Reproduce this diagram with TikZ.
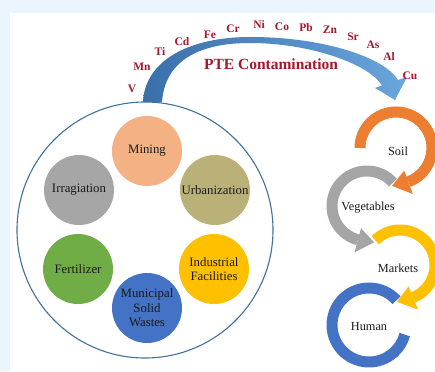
\documentclass[tikz,border=0pt]{standalone}
\usepackage{fontspec}
\setmainfont{Liberation Serif}
\usetikzlibrary{calc}

\definecolor{bgblue}{HTML}{EAF5FD}
\definecolor{poolline}{HTML}{41719C}
\definecolor{txt}{HTML}{1A1A1A}
\definecolor{pte}{HTML}{A8162A}
\definecolor{arrowdark}{HTML}{3A70AA}
\definecolor{arrowlight}{HTML}{6AA5DC}
\definecolor{cmining}{HTML}{F4B183}
\definecolor{curban}{HTML}{B9B177}
\definecolor{cirrig}{HTML}{A6A6A6}
\definecolor{cfert}{HTML}{70AD47}
\definecolor{cindus}{HTML}{FFC000}
\definecolor{cmuni}{HTML}{4472C4}
\definecolor{corange}{HTML}{ED7D31}
\definecolor{cgray}{HTML}{A5A5A5}
\definecolor{cyellow}{HTML}{FFC000}
\definecolor{cblue}{HTML}{4472C4}

\tikzset{
  source/.style={circle, minimum size=70pt, inner sep=0pt, align=center,
    font=\fontsize{12.8}{14.5}\selectfont, text=txt},
  element/.style={inner sep=0pt, text=pte, font=\fontsize{11.5}{12}\selectfont\bfseries},
  stage/.style={inner sep=0pt, text=txt, font=\fontsize{12.3}{14}\selectfont},
  band/.style={line width=11pt},
}

\begin{document}
\begin{tikzpicture}[x=1pt,y=-1pt]
  % page and light frame
  \useasboundingbox (0,0) rectangle (435,371);
  \fill[white] (0,0) rectangle (435,371);
  \fill[bgblue] (0,0) rectangle (435,13);
  \fill[bgblue] (0,0) rectangle (10,371);

  % pool of sources
  \node[circle, draw=poolline, line width=1.1pt, minimum size=256pt, inner sep=0pt] (pool) at (145,230) {};
  \node[source, fill=cmining] (mining) at (147,151) {Mining};
  \node[source, fill=curban]  (urban)  at (215,190) {Urbanization};
  \node[source, fill=cirrig]  (irrig)  at (79,190)  {Irragiation};
  \node[source, fill=cfert]   (fert)   at (78,269)  {Fertilizer};
  \node[source, fill=cindus]  (indus)  at (214,269) {Industrial\\Facilities};
  \node[source, fill=cmuni]   (muni)   at (147,308) {Municipal\\Solid\\Wastes};

  % tapered curved arrow from the pool towards the soil
  \shade[left color=arrowdark, right color=arrowlight]
    (143,102) .. controls (145,60) and (190,37) .. (250,37)
    .. controls (325,37) and (385,58) .. (398,80)
    -- (407,77) -- (395,100) -- (375,88) -- (382,85.5)
    .. controls (369,64) and (310,43) .. (250,43)
    .. controls (200,43) and (165,60) .. (162,102) -- cycle;

  \node[inner sep=0pt, text=pte, font=\fontsize{15.5}{17}\selectfont\bfseries] (title) at (271,64) {PTE Contamination};

  % elements along the arc
  \node[element] (eV)  at (132,89) {V};
  \node[element] (eMn) at (142,67) {Mn};
  \node[element] (eTi) at (160,52) {Ti};
  \node[element] (eCd) at (182,42) {Cd};
  \node[element] (eFe) at (210,35) {Fe};
  \node[element] (eCr) at (233,29) {Cr};
  \node[element] (eNi) at (259,25) {Ni};
  \node[element] (eCo) at (282,27) {Co};
  \node[element] (ePb) at (306,28) {Pb};
  \node[element] (eZn) at (330,30) {Zn};
  \node[element] (eSr) at (353,37) {Sr};
  \node[element] (eAs) at (373,45) {As};
  \node[element] (eAl) at (389,57) {Al};
  \node[element] (eCu) at (410,76) {Cu};

  % chain of circular arrows
  \coordinate (cS) at (396,148);
  \coordinate (cG) at (367,206);
  \coordinate (cY) at (400,265);
  \coordinate (cH) at (369,325);

  % human
  \draw[band, cblue] ($(cH)+(318:37)$) arc[start angle=318, end angle=15, radius=37];

  % markets
  \draw[band, cyellow] ($(cY)+(225:35)$) arc[start angle=225, end angle=428, radius=35];
  \fill[cyellow] ($(cY)+(428:23)$) -- ($(cY)+(428:48)$) -- ($(cY)+(455:37)$) -- cycle;

  % vegetables
  \draw[band, cgray] ($(cG)+(318:35)$) arc[start angle=318, end angle=105, radius=35];
  \fill[cgray] ($(cG)+(105:23)$) -- ($(cG)+(105:48)$) -- ($(cG)+(79:37)$) -- cycle;

  % soil
  \draw[band, corange] ($(cS)+(180:36)$) arc[start angle=180, end angle=430, radius=36];
  \fill[corange] ($(cS)+(430:24)$) -- ($(cS)+(430:49)$) -- ($(cS)+(456:38)$) -- cycle;

  \node[stage] (soil) at (398,151) {Soil};
  \node[stage] (veg)  at (368,208) {Vegetables};
  \node[stage] (mkt)  at (398,268) {Markets};
  \node[stage] (hum)  at (369,327) {Human};
\end{tikzpicture}
\end{document}
